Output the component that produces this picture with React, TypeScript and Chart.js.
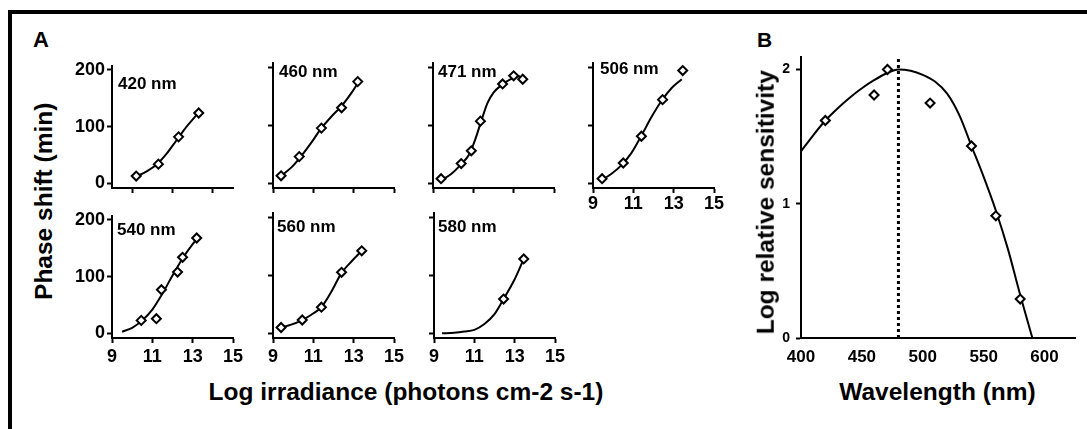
import React, { useEffect, useRef } from "react";
import { Chart, registerables } from "chart.js";

Chart.register(...registerables);

const FONT = "'Liberation Sans', Arial, Helvetica, sans-serif";

// ---------- Panel A data (log irradiance vs phase shift) ----------
const irradianceTicks = [9, 11, 13, 15];
const irradianceTicks420 = [10, 12, 14];
const phaseTicks = [0, 100, 200];

const nm420X = [10.2, 11.3, 12.3, 13.3];
const nm420Y = [13, 34, 82, 124];
const nm420CurveX = [10.2, 10.7, 11.2, 11.7, 12.2, 12.7, 13.3];
const nm420CurveY = [12, 21, 33, 52, 76, 100, 125];

const nm460X = [9.4, 10.3, 11.4, 12.4, 13.2];
const nm460Y = [13, 46, 95, 130, 175];
const nm460CurveX = [9.4, 9.9, 10.4, 10.9, 11.4, 11.9, 12.4, 12.9, 13.2];
const nm460CurveY = [13, 27, 47, 70, 95, 115, 133, 156, 172];

const nm471X = [9.4, 10.4, 10.9, 11.35, 12.45, 13.0, 13.45];
const nm471Y = [8, 34, 56, 107, 171, 185, 179];
const nm471CurveX = [9.4, 9.9, 10.4, 10.8, 11.1, 11.4, 11.7, 12.0, 12.4, 12.9, 13.3];
const nm471CurveY = [5, 16, 33, 50, 76, 108, 138, 156, 169, 180, 185];

const nm506X = [9.45, 10.5, 11.4, 12.45, 13.45];
const nm506Y = [8, 35, 81, 144, 194];
const nm506CurveX = [9.45, 9.9, 10.4, 10.9, 11.4, 11.9, 12.4, 12.9, 13.4];
const nm506CurveY = [6, 16, 31, 52, 82, 114, 142, 164, 179];

const nm540X = [10.45, 11.2, 11.45, 12.25, 12.5, 13.2];
const nm540Y = [23, 26, 77, 108, 134, 168];
const nm540CurveX = [9.5, 10.0, 10.5, 11.0, 11.5, 12.0, 12.5, 13.0, 13.3];
const nm540CurveY = [3, 10, 23, 42, 70, 102, 132, 157, 170];

const nm560X = [9.4, 10.45, 11.4, 12.4, 13.4];
const nm560Y = [10, 23, 45, 105, 142];
const nm560CurveX = [9.4, 9.9, 10.4, 10.9, 11.4, 11.9, 12.4, 12.9, 13.4];
const nm560CurveY = [10, 15, 22, 32, 45, 72, 104, 124, 142];

const nm580X = [12.45, 13.45];
const nm580Y = [59, 128];
const nm580CurveX = [9.4, 10.0, 10.5, 11.0, 11.5, 12.0, 12.45, 13.0, 13.45];
const nm580CurveY = [0, 1, 3, 6, 16, 33, 59, 93, 128];

// ---------- Panel B data (wavelength vs log relative sensitivity) ----------
const wavelengthTicks = [400, 450, 500, 550, 600];
const sensitivityTicks = [0, 1, 2];
const sensWavelengths = [420, 460, 471, 506, 540, 560, 580];
const sensValues = [1.62, 1.81, 2.0, 1.75, 1.43, 0.91, 0.29];
const templateWavelengths = [400, 410, 420, 430, 440, 450, 460, 470, 480, 490, 500, 510, 520, 530, 540, 550, 560, 570, 580, 590];
const templateValues = [1.39, 1.51, 1.62, 1.71, 1.79, 1.86, 1.92, 1.97, 2.0, 1.99, 1.96, 1.91, 1.82, 1.66, 1.43, 1.2, 0.95, 0.66, 0.32, 0.0];
const lambdaMaxX = [480, 480];
const lambdaMaxY = [0, 2.09];

type PanelSpec = {
  label: string;
  ptsX: number[];
  ptsY: number[];
  curveX: number[];
  curveY: number[];
  axisLeft: number;
  chartTop: number;
  showY: boolean;
  showX: boolean;
  xTicks: number[];
  labelDx: number;
  labelDy: number;
  xPad: number;
};

const panels: PanelSpec[] = [
  { label: "420 nm", ptsX: nm420X, ptsY: nm420Y, curveX: nm420CurveX, curveY: nm420CurveY, axisLeft: 112, chartTop: 63, showY: true, showX: false, xTicks: irradianceTicks420, labelDx: 6, labelDy: 23, xPad: 0 },
  { label: "460 nm", ptsX: nm460X, ptsY: nm460Y, curveX: nm460CurveX, curveY: nm460CurveY, axisLeft: 273, chartTop: 63, showY: false, showX: false, xTicks: irradianceTicks, labelDx: 6, labelDy: 14, xPad: 0 },
  { label: "471 nm", ptsX: nm471X, ptsY: nm471Y, curveX: nm471CurveX, curveY: nm471CurveY, axisLeft: 433, chartTop: 63, showY: false, showX: false, xTicks: irradianceTicks, labelDx: 5, labelDy: 14, xPad: 0 },
  { label: "506 nm", ptsX: nm506X, ptsY: nm506Y, curveX: nm506CurveX, curveY: nm506CurveY, axisLeft: 593, chartTop: 63, showY: false, showX: true, xTicks: irradianceTicks, labelDx: 7, labelDy: 11, xPad: 0 },
  { label: "540 nm", ptsX: nm540X, ptsY: nm540Y, curveX: nm540CurveX, curveY: nm540CurveY, axisLeft: 112, chartTop: 213, showY: true, showX: true, xTicks: irradianceTicks, labelDx: 5, labelDy: 19, xPad: 3 },
  { label: "560 nm", ptsX: nm560X, ptsY: nm560Y, curveX: nm560CurveX, curveY: nm560CurveY, axisLeft: 273, chartTop: 213, showY: false, showX: true, xTicks: irradianceTicks, labelDx: 4, labelDy: 19, xPad: 3 },
  { label: "580 nm", ptsX: nm580X, ptsY: nm580Y, curveX: nm580CurveX, curveY: nm580CurveY, axisLeft: 434, chartTop: 213, showY: false, showX: true, xTicks: irradianceTicks, labelDx: 4, labelDy: 19, xPad: 3 },
];

const toPts = (xs: number[], ys: number[]) => xs.map((x, i) => ({ x, y: ys[i] }));

const SP_LEFT = 45;
const SP_TOP = 10;
const SP_RIGHT = 20;
const SP_BOTTOM = 35;
const SP_W = 121;
const SP_H = 125;

function SmallPanel({ spec }: { spec: PanelSpec }) {
  const ref = useRef<HTMLCanvasElement>(null);
  useEffect(() => {
    if (!ref.current) return;
    const labelPlugin = {
      id: "panelLabel",
      afterDraw(chart: any) {
        const { ctx, chartArea } = chart;
        ctx.save();
        ctx.font = `bold 17px ${FONT}`;
        ctx.fillStyle = "#000";
        ctx.textBaseline = "alphabetic";
        ctx.textAlign = "left";
        ctx.fillText(spec.label, chartArea.left + spec.labelDx, chartArea.top + spec.labelDy);
        ctx.restore();
      },
    };
    const chart = new Chart(ref.current, {
      type: "scatter",
      data: {
        datasets: [
          {
            type: "scatter",
            data: toPts(spec.ptsX, spec.ptsY),
            pointStyle: "rectRot",
            pointRadius: 4.5,
            borderWidth: 2,
            borderColor: "#000",
            backgroundColor: "#fff",
          } as any,
          {
            type: "line",
            data: toPts(spec.curveX, spec.curveY),
            borderColor: "#000",
            borderWidth: 2,
            pointRadius: 0,
            cubicInterpolationMode: "monotone",
            fill: false,
          } as any,
        ],
      },
      options: {
        responsive: false,
        animation: false,
        devicePixelRatio: 1,
        layout: { padding: { left: 0, top: SP_TOP, right: SP_RIGHT, bottom: 0 } },
        plugins: { legend: { display: false }, tooltip: { enabled: false } },
        scales: {
          x: {
            type: "linear",
            min: 9,
            max: 15,
            afterBuildTicks: (s: any) => {
              s.ticks = spec.xTicks.map((v) => ({ value: v }));
            },
            afterFit: (s: any) => {
              s.height = SP_BOTTOM;
            },
            grid: { drawOnChartArea: false, drawTicks: true, tickLength: 5, tickWidth: 2, tickColor: "#000" },
            border: { display: true, color: "#000", width: 2 },
            ticks: {
              display: spec.showX,
              color: "#000",
              font: { family: FONT, size: 18, weight: "bold" },
              padding: spec.xPad,
              maxRotation: 0,
              autoSkip: false,
            },
          },
          y: {
            type: "linear",
            min: -8,
            max: 207,
            afterBuildTicks: (s: any) => {
              s.ticks = phaseTicks.map((v) => ({ value: v }));
            },
            afterFit: (s: any) => {
              s.width = SP_LEFT;
            },
            grid: { drawOnChartArea: false, drawTicks: true, tickLength: 5, tickWidth: 2, tickColor: "#000" },
            border: { display: true, color: "#000", width: 2 },
            ticks: {
              display: spec.showY,
              color: "#000",
              font: { family: FONT, size: 18, weight: "bold" },
              padding: 2,
              autoSkip: false,
            },
          },
        },
      } as any,
      plugins: [labelPlugin],
    });
    return () => chart.destroy();
  }, [spec]);
  const w = SP_LEFT + SP_W + SP_RIGHT;
  const h = SP_TOP + SP_H + SP_BOTTOM;
  return (
    <canvas
      ref={ref}
      width={w}
      height={h}
      style={{ position: "absolute", left: spec.axisLeft - SP_LEFT, top: spec.chartTop - SP_TOP, width: w, height: h }}
    />
  );
}

const B_LEFT = 45;
const B_TOP = 10;
const B_RIGHT = 10;
const B_BOTTOM = 40;
const B_AXIS_LEFT = 801;
const B_CHART_TOP = 53;
const B_W = 274;
const B_H = 285;

function PanelB() {
  const ref = useRef<HTMLCanvasElement>(null);
  useEffect(() => {
    if (!ref.current) return;
    const chart = new Chart(ref.current, {
      type: "scatter",
      data: {
        datasets: [
          {
            type: "scatter",
            data: toPts(sensWavelengths, sensValues),
            pointStyle: "rectRot",
            pointRadius: 4.5,
            borderWidth: 2,
            borderColor: "#000",
            backgroundColor: "#fff",
          } as any,
          {
            type: "line",
            data: toPts(templateWavelengths, templateValues),
            borderColor: "#000",
            borderWidth: 2,
            pointRadius: 0,
            cubicInterpolationMode: "monotone",
            fill: false,
          } as any,
          {
            type: "line",
            data: toPts(lambdaMaxX, lambdaMaxY),
            borderColor: "#000",
            borderWidth: 3,
            borderDash: [3, 3],
            pointRadius: 0,
            fill: false,
          } as any,
        ],
      },
      options: {
        responsive: false,
        animation: false,
        devicePixelRatio: 1,
        layout: { padding: { left: 0, top: B_TOP, right: B_RIGHT, bottom: 0 } },
        plugins: { legend: { display: false }, tooltip: { enabled: false } },
        scales: {
          x: {
            type: "linear",
            min: 400,
            max: 625,
            afterBuildTicks: (s: any) => {
              s.ticks = wavelengthTicks.map((v) => ({ value: v }));
            },
            afterFit: (s: any) => {
              s.height = B_BOTTOM;
            },
            grid: { drawOnChartArea: false, drawTicks: false },
            border: { display: true, color: "#000", width: 2 },
            ticks: {
              color: "#000",
              font: { family: FONT, size: 17, weight: "bold" },
              padding: 9,
              maxRotation: 0,
              autoSkip: false,
            },
          },
          y: {
            type: "linear",
            min: 0,
            max: 2.09,
            afterBuildTicks: (s: any) => {
              s.ticks = sensitivityTicks.map((v) => ({ value: v }));
            },
            afterFit: (s: any) => {
              s.width = B_LEFT;
            },
            grid: { drawOnChartArea: false, drawTicks: true, tickLength: 5, tickWidth: 2, tickColor: "#000" },
            border: { display: true, color: "#000", width: 2 },
            ticks: {
              color: "#000",
              font: { family: FONT, size: 14, weight: "bold" },
              padding: 6,
              autoSkip: false,
            },
          },
        },
      } as any,
    });
    return () => chart.destroy();
  }, []);
  const w = B_LEFT + B_W + B_RIGHT;
  const h = B_TOP + B_H + B_BOTTOM;
  return (
    <canvas
      ref={ref}
      width={w}
      height={h}
      style={{ position: "absolute", left: B_AXIS_LEFT - B_LEFT, top: B_CHART_TOP - B_TOP, width: w, height: h }}
    />
  );
}

function HText({ text, cx, top, size }: { text: string; cx: number; top: number; size: number }) {
  return (
    <div
      style={{
        position: "absolute",
        left: cx - 300,
        top,
        width: 600,
        textAlign: "center",
        font: `bold ${size}px ${FONT}`,
        lineHeight: `${size}px`,
        whiteSpace: "nowrap",
        color: "#000",
      }}
    >
      {text}
    </div>
  );
}

function VText({ text, cx, cy, size }: { text: string; cx: number; cy: number; size: number }) {
  const W = 320;
  return (
    <div
      style={{
        position: "absolute",
        left: cx - W / 2,
        top: cy - size / 2,
        width: W,
        height: size,
        textAlign: "center",
        font: `bold ${size}px ${FONT}`,
        lineHeight: `${size}px`,
        whiteSpace: "nowrap",
        color: "#000",
        transform: "rotate(-90deg)",
      }}
    >
      {text}
    </div>
  );
}

export default function App() {
  return (
    <div
      style={{
        position: "fixed",
        left: 0,
        top: 0,
        width: 1087,
        height: 429,
        overflow: "hidden",
        background: "#fff",
      }}
    >
      <div
        style={{
          position: "absolute",
          left: 8,
          top: 10,
          right: 0,
          bottom: 0,
          borderTop: "4px solid #000",
          borderLeft: "4px solid #000",
        }}
      />
      <div style={{ position: "absolute", left: 33, top: 29, font: `bold 22px ${FONT}`, lineHeight: "22px", color: "#000" }}>A</div>
      <div style={{ position: "absolute", left: 757, top: 29, font: `bold 21px ${FONT}`, lineHeight: "21px", color: "#000" }}>B</div>
      {panels.map((p) => (
        <SmallPanel key={p.label} spec={p} />
      ))}
      <PanelB />
      <VText text="Phase shift (min)" cx={44} cy={201.5} size={24.5} />
      <HText text="Log irradiance (photons cm-2 s-1)" cx={406} top={380} size={24.5} />
      <VText text="Log relative sensitivity" cx={766} cy={202.5} size={24.5} />
      <HText text="Wavelength (nm)" cx={937.5} top={379.5} size={24.5} />
    </div>
  );
}
